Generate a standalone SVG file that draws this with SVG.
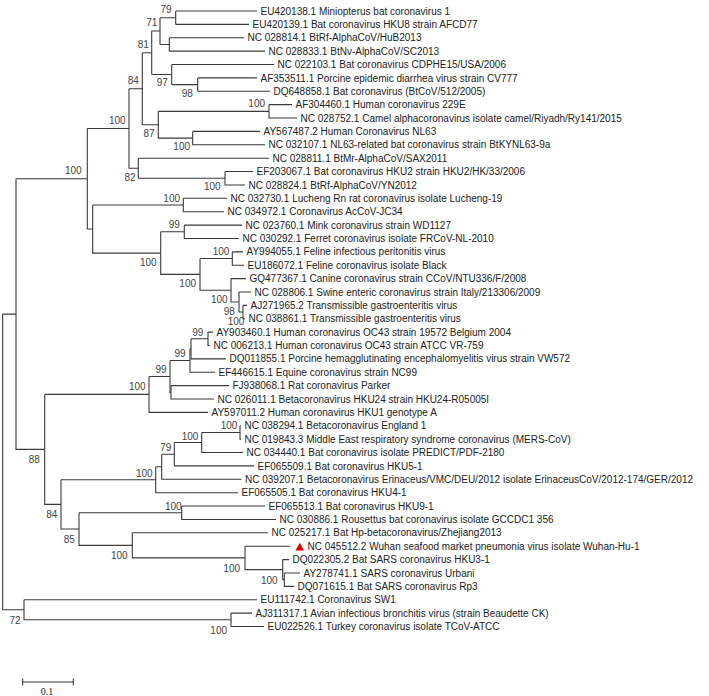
<svg xmlns="http://www.w3.org/2000/svg" width="709" height="696" viewBox="0 0 709 696">
<style>
.br{fill:none;stroke:#3a3a3a;stroke-width:1.1}
.lf{font-family:"Liberation Sans",Arial,sans-serif;font-size:10px;fill:#222}
.bs{font-family:"Liberation Sans",Arial,sans-serif;font-size:10px;fill:#444;text-anchor:middle}
.sc{font-family:"Liberation Serif","Times New Roman",serif;font-size:10px;fill:#222;text-anchor:middle}
</style>
<rect width="709" height="696" fill="#fff"/>
<g id="connectors" class="br">
<path d="M175.7 11V24.38M175.7 11H257M175.7 24.38H249"/>
<path d="M169.3 37.76V51.14M169.3 37.76H244M169.3 51.14H265"/>
<path d="M160 17.69V44.45M160 17.69H175.7M160 44.45H169.3"/>
<path d="M197.7 77.9V91.28M197.7 77.9H257M197.7 91.28H270"/>
<path d="M171.7 64.52V84.59M171.7 64.52H274M171.7 84.59H197.7"/>
<path d="M151.7 31.07V74.56M151.7 31.07H160M151.7 74.56H171.7"/>
<path d="M269 104.66V118.04H297M269 104.66H292"/>
<path d="M192.7 131.42V144.8H265M192.7 131.42H260"/>
<path d="M158.3 111.35V138.11H192.7M158.3 111.35H269"/>
<path d="M142.3 52.81V124.73H158.3M142.3 52.81H151.7"/>
<path d="M225 171.56V184.94H245M225 171.56H253"/>
<path d="M138.3 158.18V178.25H225M138.3 158.18H269"/>
<path d="M129 88.77V168.22H138.3M129 88.77H142.3"/>
<path d="M183.3 198.32V211.7H224M183.3 198.32H227"/>
<path d="M184.3 225.08V238.46H239M184.3 225.08H242"/>
<path d="M232.3 251.84V265.22H244M232.3 251.84H243"/>
<path d="M243 305.36V318.74H245M243 305.36H247"/>
<path d="M239 291.98V312.05H243M239 291.98H251"/>
<path d="M231 278.6V302.02H239M231 278.6H246"/>
<path d="M200 258.53V290.31H231M200 258.53H232.3"/>
<path d="M160.7 231.77V274.42H200M160.7 231.77H184.3"/>
<path d="M92.7 205.01V253.1H160.7M92.7 205.01H183.3"/>
<path d="M87.3 128.49V229.05H92.7M87.3 128.49H129"/>
<path d="M208 332.12V345.5H210M208 332.12H213"/>
<path d="M191 338.81V358.88H226M191 338.81H208"/>
<path d="M190 348.85V372.26H215M190 348.85H191"/>
<path d="M171 385.64V399.02H214M171 385.64H229"/>
<path d="M170 360.55V392.33H171M170 360.55H190"/>
<path d="M149 376.44V412.4H208M149 376.44H170"/>
<path d="M240 425.78V439.16H241M240 425.78H241"/>
<path d="M201.7 432.47V452.54H243M201.7 432.47H240"/>
<path d="M174.3 442.5V465.92H254M174.3 442.5H201.7"/>
<path d="M161.7 454.21V479.3H241.5M161.7 454.21H174.3"/>
<path d="M155.7 466.76V492.68H238M155.7 466.76H161.7"/>
<path d="M181.7 506.06V519.44H276M181.7 506.06H265"/>
<path d="M284.3 572.96V586.34H294M284.3 572.96H300"/>
<path d="M282.7 559.58V579.65H284.3M282.7 559.58H289"/>
<path d="M245 546.2V569.62H282.7M245 546.2H290"/>
<path d="M132.3 532.82V557.91H245M132.3 532.82H268"/>
<path d="M79 512.75V545.37H132.3M79 512.75H181.7"/>
<path d="M61 479.72V529.06H79M61 479.72H155.7"/>
<path d="M44.7 394.42V504.39H61M44.7 394.42H149"/>
<path d="M16 178.77V449.41H44.7M16 178.77H87.3"/>
<path d="M231 613.1V626.48H264M231 613.1H252"/>
<path d="M24 599.72V619.79H231M24 599.72H257"/>
<path d="M2.7 314.09V609.76H24M2.7 314.09H16"/>
</g>
<g id="leaves">
<g id="leaf01"><text class="lf" x="260.5" y="14.6">EU420138.1 Miniopterus bat coronavirus 1</text></g>
<g id="leaf02"><text class="lf" x="252.5" y="27.98">EU420139.1 Bat coronavirus HKU8 strain AFCD77</text></g>
<g id="leaf03"><text class="lf" x="247.5" y="41.36">NC 028814.1 BtRf-AlphaCoV/HuB2013</text></g>
<g id="leaf04"><text class="lf" x="268.5" y="54.74">NC 028833.1 BtNv-AlphaCoV/SC2013</text></g>
<g id="leaf05"><text class="lf" x="277.5" y="68.12">NC 022103.1 Bat coronavirus CDPHE15/USA/2006</text></g>
<g id="leaf06"><text class="lf" x="260.5" y="81.5">AF353511.1 Porcine epidemic diarrhea virus strain CV777</text></g>
<g id="leaf07"><text class="lf" x="273.5" y="94.88">DQ648858.1 Bat coronavirus (BtCoV/512/2005)</text></g>
<g id="leaf08"><text class="lf" x="295.5" y="108.26">AF304460.1 Human coronavirus 229E</text></g>
<g id="leaf09"><text class="lf" x="300.5" y="121.64">NC 028752.1 Camel alphacoronavirus isolate camel/Riyadh/Ry141/2015</text></g>
<g id="leaf10"><text class="lf" x="263.5" y="135.02">AY567487.2 Human Coronavirus NL63</text></g>
<g id="leaf11"><text class="lf" x="268.5" y="148.4">NC 032107.1 NL63-related bat coronavirus strain BtKYNL63-9a</text></g>
<g id="leaf12"><text class="lf" x="272.5" y="161.78">NC 028811.1 BtMr-AlphaCoV/SAX2011</text></g>
<g id="leaf13"><text class="lf" x="256.5" y="175.16">EF203067.1 Bat coronavirus HKU2 strain HKU2/HK/33/2006</text></g>
<g id="leaf14"><text class="lf" x="248.5" y="188.54">NC 028824.1 BtRf-AlphaCoV/YN2012</text></g>
<g id="leaf15"><text class="lf" x="230.5" y="201.92">NC 032730.1 Lucheng Rn rat coronavirus isolate Lucheng-19</text></g>
<g id="leaf16"><text class="lf" x="227.5" y="215.3">NC 034972.1 Coronavirus AcCoV-JC34</text></g>
<g id="leaf17"><text class="lf" x="245.5" y="228.68">NC 023760.1 Mink coronavirus strain WD1127</text></g>
<g id="leaf18"><text class="lf" x="242.5" y="242.06">NC 030292.1 Ferret coronavirus isolate FRCoV-NL-2010</text></g>
<g id="leaf19"><text class="lf" x="246.5" y="255.44">AY994055.1 Feline infectious peritonitis virus</text></g>
<g id="leaf20"><text class="lf" x="247.5" y="268.82">EU186072.1 Feline coronavirus isolate Black</text></g>
<g id="leaf21"><text class="lf" x="249.5" y="282.2">GQ477367.1 Canine coronavirus strain CCoV/NTU336/F/2008</text></g>
<g id="leaf22"><text class="lf" x="254.5" y="295.58">NC 028806.1 Swine enteric coronavirus strain Italy/213306/2009</text></g>
<g id="leaf23"><text class="lf" x="250.5" y="308.96">AJ271965.2 Transmissible gastroenteritis virus</text></g>
<g id="leaf24"><text class="lf" x="248.5" y="322.34">NC 038861.1 Transmissible gastroenteritis virus</text></g>
<g id="leaf25"><text class="lf" x="216.5" y="335.72">AY903460.1 Human coronavirus OC43 strain 19572 Belgium 2004</text></g>
<g id="leaf26"><text class="lf" x="213.5" y="349.1">NC 006213.1 Human coronavirus OC43 strain ATCC VR-759</text></g>
<g id="leaf27"><text class="lf" x="229.5" y="362.48">DQ011855.1 Porcine hemagglutinating encephalomyelitis virus strain VW572</text></g>
<g id="leaf28"><text class="lf" x="218.5" y="375.86">EF446615.1 Equine coronavirus strain NC99</text></g>
<g id="leaf29"><text class="lf" x="232.5" y="389.24">FJ938068.1 Rat coronavirus Parker</text></g>
<g id="leaf30"><text class="lf" x="217.5" y="402.62">NC 026011.1 Betacoronavirus HKU24 strain HKU24-R05005I</text></g>
<g id="leaf31"><text class="lf" x="211.5" y="416">AY597011.2 Human coronavirus HKU1 genotype A</text></g>
<g id="leaf32"><text class="lf" x="244.5" y="429.38">NC 038294.1 Betacoronavirus England 1</text></g>
<g id="leaf33"><text class="lf" x="244.5" y="442.76">NC 019843.3 Middle East respiratory syndrome coronavirus (MERS-CoV)</text></g>
<g id="leaf34"><text class="lf" x="246.5" y="456.14">NC 034440.1 Bat coronavirus isolate PREDICT/PDF-2180</text></g>
<g id="leaf35"><text class="lf" x="257.5" y="469.52">EF065509.1 Bat coronavirus HKU5-1</text></g>
<g id="leaf36"><text class="lf" x="245" y="482.9">NC 039207.1 Betacoronavirus Erinaceus/VMC/DEU/2012 isolate ErinaceusCoV/2012-174/GER/2012</text></g>
<g id="leaf37"><text class="lf" x="241.5" y="496.28">EF065505.1 Bat coronavirus HKU4-1</text></g>
<g id="leaf38"><text class="lf" x="268.5" y="509.66">EF065513.1 Bat coronavirus HKU9-1</text></g>
<g id="leaf39"><text class="lf" x="279.5" y="523.04">NC 030886.1 Rousettus bat coronavirus isolate GCCDC1 356</text></g>
<g id="leaf40"><text class="lf" x="271.5" y="536.42">NC 025217.1 Bat Hp-betacoronavirus/Zhejiang2013</text></g>
<g id="leaf41"><polygon points="295.5,550.5 299.8,542.8 304,550.5" fill="#e00000"/><text class="lf" x="307.5" y="549.8">NC 045512.2 Wuhan seafood market pneumonia virus isolate Wuhan-Hu-1</text></g>
<g id="leaf42"><text class="lf" x="292.5" y="563.18">DQ022305.2 Bat SARS coronavirus HKU3-1</text></g>
<g id="leaf43"><text class="lf" x="303.5" y="576.56">AY278741.1 SARS coronavirus Urbani</text></g>
<g id="leaf44"><text class="lf" x="297.5" y="589.94">DQ071615.1 Bat SARS coronavirus Rp3</text></g>
<g id="leaf45"><text class="lf" x="260.5" y="603.32">EU111742.1 Coronavirus SW1</text></g>
<g id="leaf46"><text class="lf" x="255.5" y="616.7">AJ311317.1 Avian infectious bronchitis virus (strain Beaudette CK)</text></g>
<g id="leaf47"><text class="lf" x="267.5" y="630.08">EU022526.1 Turkey coronavirus isolate TCoV-ATCC</text></g>
</g>
<g id="bootstrap">
<g id="bs01"><text class="bs" x="166" y="12.6">79</text></g>
<g id="bs02"><text class="bs" x="151.7" y="26.3">71</text></g>
<g id="bs03"><text class="bs" x="143.3" y="47.6">81</text></g>
<g id="bs04"><text class="bs" x="162.3" y="85.6">97</text></g>
<g id="bs05"><text class="bs" x="187.3" y="96.9">98</text></g>
<g id="bs06"><text class="bs" x="133.3" y="83.6">84</text></g>
<g id="bs07"><text class="bs" x="256.7" y="106.9">100</text></g>
<g id="bs08"><text class="bs" x="149" y="136.9">87</text></g>
<g id="bs09"><text class="bs" x="181.7" y="150.3">100</text></g>
<g id="bs10"><text class="bs" x="117.3" y="124.3">100</text></g>
<g id="bs11"><text class="bs" x="73.3" y="174.3">100</text></g>
<g id="bs12"><text class="bs" x="130" y="180.6">82</text></g>
<g id="bs13"><text class="bs" x="212.3" y="190.3">100</text></g>
<g id="bs14"><text class="bs" x="171.7" y="201.9">100</text></g>
<g id="bs15"><text class="bs" x="174.3" y="227.6">99</text></g>
<g id="bs16"><text class="bs" x="148.3" y="265.9">100</text></g>
<g id="bs17"><text class="bs" x="221" y="254.6">100</text></g>
<g id="bs18"><text class="bs" x="187.7" y="286.9">100</text></g>
<g id="bs19"><text class="bs" x="219.3" y="302.9">100</text></g>
<g id="bs20"><text class="bs" x="229.3" y="315.3">98</text></g>
<g id="bs21"><text class="bs" x="236" y="325.3">100</text></g>
<g id="bs22"><text class="bs" x="197.7" y="335.9">99</text></g>
<g id="bs23"><text class="bs" x="180" y="356.9">99</text></g>
<g id="bs24"><text class="bs" x="161" y="372.6">99</text></g>
<g id="bs25"><text class="bs" x="137.3" y="390.3">100</text></g>
<g id="bs26"><text class="bs" x="229" y="429.3">100</text></g>
<g id="bs27"><text class="bs" x="190" y="439.6">100</text></g>
<g id="bs28"><text class="bs" x="165.7" y="450.9">79</text></g>
<g id="bs29"><text class="bs" x="144.3" y="476.9">100</text></g>
<g id="bs30"><text class="bs" x="34.3" y="462.6">88</text></g>
<g id="bs31"><text class="bs" x="173.3" y="510.3">100</text></g>
<g id="bs32"><text class="bs" x="51.7" y="517.6">84</text></g>
<g id="bs33"><text class="bs" x="69.3" y="542.9">85</text></g>
<g id="bs34"><text class="bs" x="119.3" y="558.6">100</text></g>
<g id="bs35"><text class="bs" x="231.7" y="571.9">100</text></g>
<g id="bs36"><text class="bs" x="269.3" y="583.6">100</text></g>
<g id="bs37"><text class="bs" x="15" y="623.6">72</text></g>
<g id="bs38"><text class="bs" x="218.7" y="634.3">100</text></g>
</g>
<g id="scalebar">
<path class="br" d="M22.7 682H73.3M22.7 678.5V685.5M73.3 678.5V685.5"/>
<text class="sc" x="47" y="695">0.1</text>
</g>
</svg>
